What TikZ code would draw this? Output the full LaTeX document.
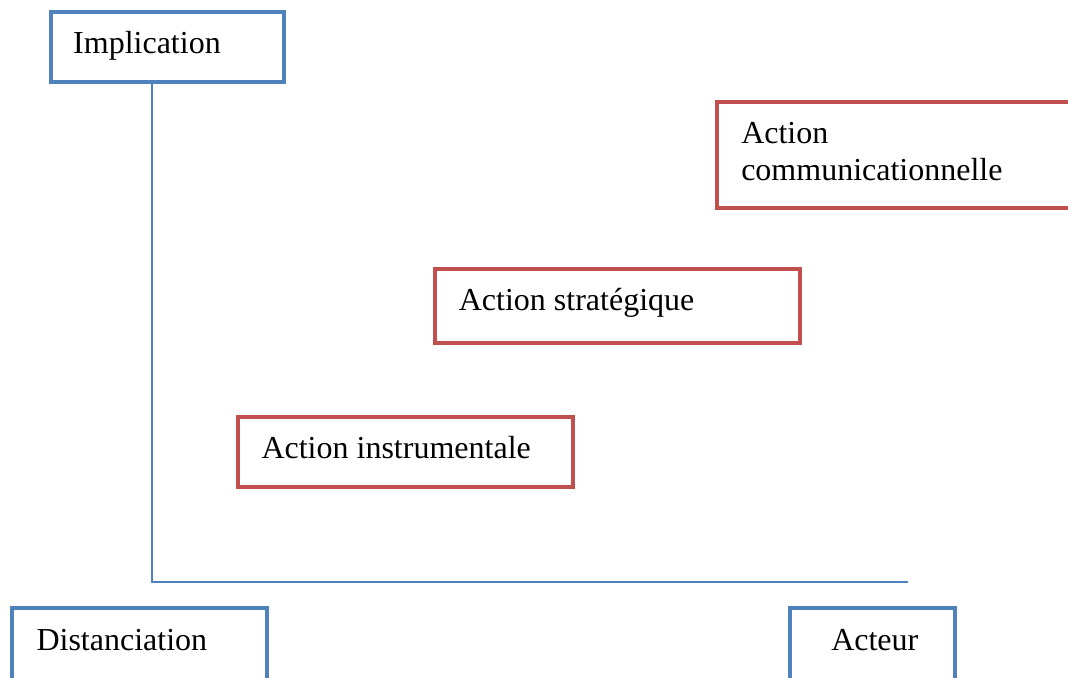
\documentclass[tikz,border=0pt]{standalone}
\usepackage{fontspec}
\setmainfont{Liberation Serif}
\usepackage{tikz}
\definecolor{axisblue}{HTML}{4F81BD}
\definecolor{actionred}{HTML}{C0504D}

\begin{document}
\begin{tikzpicture}[x=0.375pt, y=-0.375pt,
    polebox/.style={draw=axisblue, line width=1.5pt, rectangle, inner sep=0pt, outer sep=0pt},
    actionbox/.style={draw=actionred, line width=1.5pt, rectangle, inner sep=0pt, outer sep=0pt},
    boxlabel/.style={anchor=base west, inner sep=0pt, align=left, font=\fontsize{12pt}{13.75pt}\selectfont}]
      \useasboundingbox (0, 0) rectangle (1068, 677);
      \node[polebox, minimum width={233.3*0.375pt}, minimum height={70*0.375pt}] (impl) at (167.3, 46.7) {};
      \node[actionbox, minimum width={362.7*0.375pt}, minimum height={106.6*0.375pt}] (comm) at (898.7, 155) {};
      \node[actionbox, minimum width={365*0.375pt}, minimum height={74.3*0.375pt}] (strat) at (617.5, 306.2) {};
      \node[actionbox, minimum width={335*0.375pt}, minimum height={70*0.375pt}] (instr) at (405.8, 451.7) {};
      \node[polebox, minimum width={254.7*0.375pt}, minimum height={92*0.375pt}] (dist) at (139.3, 654) {};
      \node[polebox, minimum width={165*0.375pt}, minimum height={92*0.375pt}] (acteur) at (872.5, 654) {};
      \node[boxlabel] (implText) at (72.7, 53.3) {Implication};
      \node[boxlabel] (commText) at (740.7, 180) {Action\\communicationnelle};
      \node[boxlabel] (stratText) at (458.3, 310) {Action stratégique};
      \node[boxlabel] (instrText) at (261, 458.3) {Action instrumentale};
      \node[boxlabel] (distText) at (36, 650.7) {Distanciation};
      \node[boxlabel] (acteurText) at (830.7, 650.7) {Acteur};
      \coordinate (origin) at (152.3, 582);
      \coordinate (xend) at (908, 582);
      \draw[axisblue, line width=0.75pt] (impl.south -| origin) -- (origin) -- (xend);
    \end{tikzpicture}
\end{document}
